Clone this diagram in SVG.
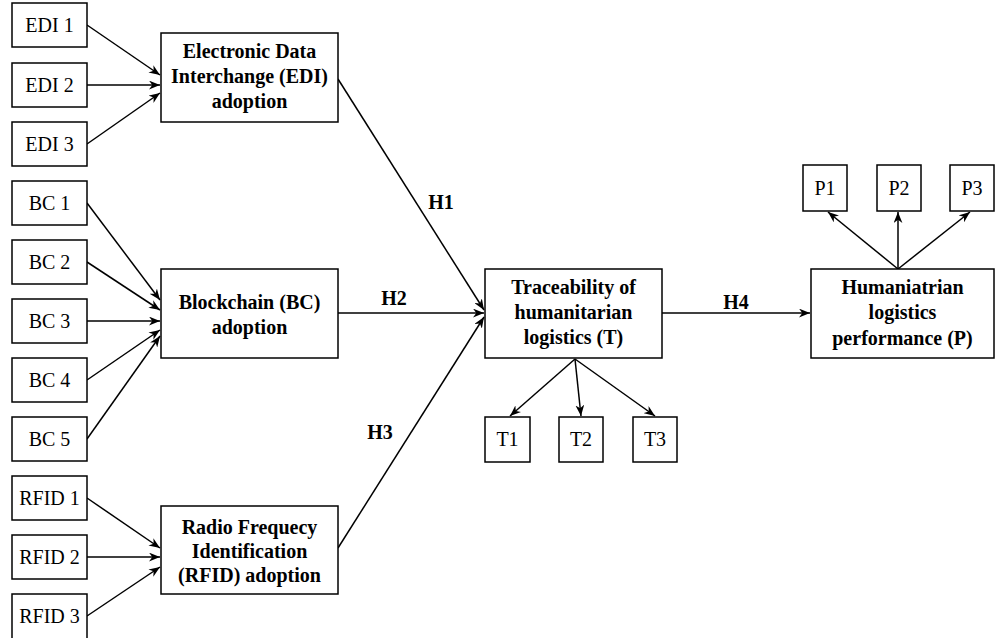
<svg xmlns="http://www.w3.org/2000/svg" width="996" height="638" viewBox="0 0 996 638">
<defs>
<marker id="arr" viewBox="0 0 10 8" markerWidth="11" markerHeight="9" refX="10" refY="4" orient="auto" markerUnits="userSpaceOnUse">
<path d="M0,0 L10,4 L0,8 L3,4 Z" fill="#000"/>
</marker>
</defs>
<style>
rect{fill:#fff;stroke:#000;stroke-width:1.5}
text{fill:#000;text-anchor:middle}
.s{font-size:20px}
.b{font-size:20px;font-weight:bold}
.c line{stroke:#000;stroke-width:1.5;marker-end:url(#arr)}
</style>
<rect x="0" y="0" width="996" height="638" style="stroke:none"/>
<g font-family="'Liberation Serif', 'Times New Roman', 'DejaVu Serif', serif">
<g class="c" id="connectors">
<line x1="87" y1="25" x2="160" y2="75"/>
<line x1="87" y1="85" x2="160" y2="85"/>
<line x1="87" y1="144" x2="160" y2="93"/>
<line x1="87" y1="203" x2="160" y2="300"/>
<line x1="87" y1="262" x2="160" y2="310"/>
<line x1="87" y1="321" x2="160" y2="321"/>
<line x1="87" y1="380" x2="160" y2="330"/>
<line x1="87" y1="439" x2="160" y2="336"/>
<line x1="87" y1="498" x2="160" y2="548"/>
<line x1="87" y1="557" x2="160" y2="557"/>
<line x1="87" y1="616" x2="160" y2="567"/>
<line x1="338" y1="79" x2="484" y2="310"/>
<line x1="338" y1="313" x2="484" y2="313"/>
<line x1="338" y1="548" x2="484" y2="317"/>
<line x1="662" y1="313" x2="810" y2="313"/>
<line x1="575" y1="359" x2="510" y2="416"/>
<line x1="575" y1="359" x2="581" y2="416"/>
<line x1="575" y1="359" x2="655" y2="416"/>
<line x1="898" y1="269" x2="828" y2="212"/>
<line x1="898" y1="269" x2="898" y2="212"/>
<line x1="898" y1="269" x2="970" y2="212"/>
</g>
<g id="labels">
<text class="b" x="441" y="209">H1</text>
<text class="b" x="394" y="305">H2</text>
<text class="b" x="380" y="439">H3</text>
<text class="b" x="736" y="309">H4</text>
</g>
<g id="edi1"><rect x="12" y="3" width="75" height="44"/><text class="s" x="49.5" y="32">EDI 1</text></g>
<g id="edi2"><rect x="12" y="63" width="75" height="44"/><text class="s" x="49.5" y="92">EDI 2</text></g>
<g id="edi3"><rect x="12" y="122" width="75" height="44"/><text class="s" x="49.5" y="151">EDI 3</text></g>
<g id="bc1"><rect x="12" y="181" width="75" height="44"/><text class="s" x="49.5" y="210">BC 1</text></g>
<g id="bc2"><rect x="12" y="240" width="75" height="44"/><text class="s" x="49.5" y="269">BC 2</text></g>
<g id="bc3"><rect x="12" y="299" width="75" height="44"/><text class="s" x="49.5" y="328">BC 3</text></g>
<g id="bc4"><rect x="12" y="358" width="75" height="44"/><text class="s" x="49.5" y="387">BC 4</text></g>
<g id="bc5"><rect x="12" y="417" width="75" height="44"/><text class="s" x="49.5" y="446">BC 5</text></g>
<g id="rfid1"><rect x="12" y="476" width="75" height="44"/><text class="s" x="49.5" y="505">RFID 1</text></g>
<g id="rfid2"><rect x="12" y="535" width="75" height="44"/><text class="s" x="49.5" y="564">RFID 2</text></g>
<g id="rfid3"><rect x="12" y="594" width="75" height="46"/><text class="s" x="49.5" y="623">RFID 3</text></g>
<g id="edi"><rect x="161" y="33" width="177" height="89"/>
<text class="b" x="249.5" y="58">Electronic Data</text>
<text class="b" x="249.5" y="83">Interchange (EDI)</text>
<text class="b" x="249.5" y="108">adoption</text></g>
<g id="bc"><rect x="161" y="269" width="177" height="89"/>
<text class="b" x="249.5" y="309">Blockchain (BC)</text>
<text class="b" x="249.5" y="334">adoption</text></g>
<g id="rfid"><rect x="161" y="506" width="177" height="88"/>
<text class="b" x="249.5" y="534">Radio Frequecy</text>
<text class="b" x="249.5" y="558">Identification</text>
<text class="b" x="249.5" y="582">(RFID) adoption</text></g>
<g id="t"><rect x="485" y="269" width="177" height="89"/>
<text class="b" x="573.5" y="294">Traceability of</text>
<text class="b" x="573.5" y="319">humanitarian</text>
<text class="b" x="573.5" y="344">logistics (T)</text></g>
<g id="t1"><rect x="485" y="417" width="45" height="45"/><text class="s" x="507.5" y="446">T1</text></g>
<g id="t2"><rect x="559" y="417" width="44" height="45"/><text class="s" x="581" y="446">T2</text></g>
<g id="t3"><rect x="633" y="417" width="44" height="45"/><text class="s" x="655" y="446">T3</text></g>
<g id="p"><rect x="811" y="269" width="183" height="89"/>
<text class="b" x="902.5" y="294">Humaniatrian</text>
<text class="b" x="902.5" y="319">logistics</text>
<text class="b" x="902.5" y="345">performance (P)</text></g>
<g id="p1"><rect x="803" y="165" width="44" height="46"/><text class="s" x="825" y="195">P1</text></g>
<g id="p2"><rect x="877" y="165" width="44" height="46"/><text class="s" x="899" y="195">P2</text></g>
<g id="p3"><rect x="950" y="165" width="44" height="46"/><text class="s" x="972" y="195">P3</text></g>
</g>
</svg>
